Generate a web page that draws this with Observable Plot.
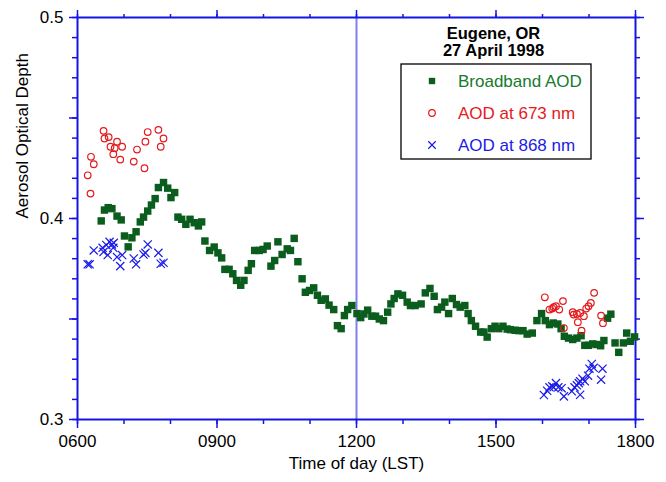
<!DOCTYPE html>
<html>
<head>
<meta charset="utf-8">
<script src="https://cdn.jsdelivr.net/npm/d3@7"></script>
<script src="https://cdn.jsdelivr.net/npm/@observablehq/plot@0.6"></script>
<style>
  html, body { margin: 0; padding: 0; background: #fff; }
  #chart { width: 666px; height: 482px; }
  svg { font-family: "Liberation Sans", Arial, Helvetica, sans-serif; }
</style>
</head>
<body>
<div id="chart"></div>
<script>
// ---- Data (time of day in decimal hours LST, aerosol optical depth) ----
const bbTime = [6.51,6.58,6.66,6.74,6.85,6.94,7.01,7.09,7.17,7.26,7.35,7.42,7.51,7.59,7.67,7.74,7.85,7.94,8.01,8.09,8.16,8.24,8.33,8.42,8.51,8.60,8.67,
  8.74,8.84,8.94,9.02,9.10,9.17,9.26,9.34,9.42,9.51,9.58,9.67,9.74,9.81,9.91,9.99,10.08,10.16,10.24,10.31,10.40,10.51,10.58,10.66,10.74,10.83,10.90,10.99,11.08,11.16,11.24,11.33,11.41,11.51,
  11.59,11.67,11.74,11.81,11.90,12.01,12.09,12.16,12.24,12.33,12.41,12.49,12.58,12.67,12.74,12.81,12.89,12.99,13.09,13.16,13.26,13.39,13.48,13.58,13.67,13.74,13.83,13.90,13.98,14.06,14.15,14.23,14.33,14.40,14.47,14.56,14.67,14.74,14.81,14.90,14.98,15.06,15.15,15.24,15.31,15.41,15.49,15.58,15.67,15.78,
  15.88,15.98,16.06,16.15,16.23,16.33,16.40,16.47,16.56,16.65,16.74,16.83,16.91,16.99,17.08,17.17,17.25,17.32,17.40,17.47,17.56,17.64,17.74,17.81,17.89,17.98];
const bbAod = [0.3988,0.4042,0.4054,0.4049,0.4012,0.3993,0.3913,0.3859,0.3904,0.3934,0.3983,0.4007,0.4037,0.4067,0.4099,0.4154,0.4179,0.4151,0.4104,0.4129,0.4007,0.3996,0.3971,0.3996,0.3979,0.3963,0.3983,
  0.3888,0.3841,0.3858,0.3829,0.3804,0.3747,0.3747,0.3725,0.3692,0.3668,0.3692,0.3742,0.3775,0.3841,0.3841,0.3846,0.3863,0.3763,0.3791,0.3884,0.3821,0.3849,0.3841,0.3901,0.3785,0.3700,0.3633,0.3642,0.3655,0.3618,0.3593,0.3600,0.3569,0.3547,
  0.3467,0.3452,0.3517,0.3547,0.3567,0.3527,0.3507,0.3525,0.3544,0.3514,0.3514,0.3500,0.3492,0.3534,0.3575,0.3602,0.3625,0.3618,0.3584,0.3567,0.3567,0.3575,0.3630,0.3652,0.3613,0.3547,0.3559,0.3584,0.3527,0.3602,0.3572,0.3559,0.3567,0.3527,0.3492,0.3464,0.3435,0.3435,0.3410,0.3452,0.3464,0.3452,0.3464,0.3450,0.3447,0.3444,0.3442,0.3442,0.3425,0.3430,
  0.3492,0.3527,0.3492,0.3472,0.3480,0.3475,0.3452,0.3414,0.3405,0.3398,0.3405,0.3417,0.3369,0.3369,0.3376,0.3373,0.3367,0.3393,0.3504,0.3524,0.3381,0.3334,0.3381,0.3430,0.3389,0.3411];

const redTime = [6.22,6.28,6.29,6.35,6.56,6.58,6.67,6.71,6.77,6.80,6.85,6.92,6.96,7.21,7.28,7.44,7.46,7.51,7.74,7.79,7.85,
  16.05,16.15,16.21,16.24,16.29,16.36,16.44,16.46,16.65,16.67,16.74,16.76,16.81,16.84,16.89,16.94,16.99,17.04,17.11,17.26,17.30];
const redAod = [0.4215,0.4124,0.4307,0.4270,0.4436,0.4398,0.4405,0.4357,0.4320,0.4350,0.4382,0.4293,0.4357,0.4283,0.4343,0.4250,0.4382,0.4430,0.4441,0.4357,0.4398,
  0.3608,0.3547,0.3552,0.3559,0.3564,0.3547,0.3589,0.3455,0.3534,0.3522,0.3525,0.3484,0.3530,0.3442,0.3514,0.3552,0.3564,0.3580,0.3630,0.3517,0.3479];

const blueTime = [6.22,6.26,6.35,6.54,6.56,6.62,6.65,6.69,6.74,6.78,6.77,6.85,6.92,6.96,7.21,7.26,7.42,7.46,7.51,7.74,7.79,7.85,
  16.03,16.10,16.15,16.21,16.24,16.29,16.34,16.41,16.46,16.63,16.69,16.74,16.78,16.81,16.86,16.91,16.81,16.98,17.01,17.06,17.10,17.29,17.26];
const blueAod = [0.3772,0.3772,0.3841,0.3854,0.3834,0.3868,0.3818,0.3884,0.3871,0.3879,0.3854,0.3808,0.3763,0.3818,0.3801,0.3772,0.3821,0.3829,0.3871,0.3829,0.3775,0.3780,
  0.3122,0.3143,0.3160,0.3165,0.3160,0.3181,0.3160,0.3156,0.3115,0.3140,0.3160,0.3170,0.3181,0.3190,0.3203,0.3190,0.3123,0.3218,0.3253,0.3276,0.3257,0.3253,0.3198];

const xMajorTicks = [6, 9, 12, 15, 18];
const xMinorTicks = [6,7,8,9,10,11,12,13,14,15,16,17,18];
const yMajorTicks = [0.3, 0.4, 0.5];
const yMidTicks = [0.35, 0.45];
const yMinorTicks = d3.range(30, 51).map(d => d / 100);
const noonLine = [12];

const titleLine1 = "Eugene, OR";
const titleLine2 = "27 April 1998";
const xLabel = "Time of day (LST)";
const yLabel = "Aerosol Optical Depth";
const seriesNames = ["Broadband AOD", "AOD at 673 nm", "AOD at 868 nm"];

// ---- Styles ----
const axisBlue = "#1414e6";
const green = "#0b5d1e";
const red = "#e41a1c";
const blue = "#1a1ae8";
const font = "Liberation Sans, Arial, Helvetica, sans-serif";

const bb = bbTime.map((t, i) => ({t, v: bbAod[i]}));
const r673 = redTime.map((t, i) => ({t, v: redAod[i]}));
const r868 = blueTime.map((t, i) => ({t, v: blueAod[i]}));

const fmtTime = d => String(Math.round(d * 100)).padStart(4, "0");
const blank = () => "";

const plot = Plot.plot({
  width: 666,
  height: 482,
  marginLeft: 77,
  marginRight: 31,
  marginTop: 17,
  marginBottom: 63,
  style: {fontFamily: font, fontSize: "17px", background: "white", color: "black", overflow: "visible"},
  x: {domain: [6, 18]},
  y: {domain: [0.3, 0.5]},
  marks: [
    Plot.ruleX(noonLine, {stroke: "#7f7ff3", strokeWidth: 2}),
    // bottom
    Plot.axisX({anchor: "bottom", ticks: xMinorTicks, tickSize: 5, tickFormat: blank, label: null, stroke: axisBlue, strokeWidth: 1.5}),
    Plot.axisX({anchor: "bottom", ticks: xMajorTicks, tickSize: 9, tickPadding: 6, tickFormat: fmtTime, label: null, stroke: axisBlue, strokeWidth: 1.5, fill: "black", fontSize: 17}),
    // top
    Plot.axisX({anchor: "top", ticks: xMinorTicks, tickSize: 4, tickFormat: blank, label: null, stroke: axisBlue, strokeWidth: 1.5}),
    Plot.axisX({anchor: "top", ticks: xMajorTicks, tickSize: 8, tickFormat: blank, label: null, stroke: axisBlue, strokeWidth: 1.5}),
    // left
    Plot.axisY({anchor: "left", ticks: yMinorTicks, tickSize: 5, tickFormat: blank, label: null, stroke: axisBlue, strokeWidth: 1.5}),
    Plot.axisY({anchor: "left", ticks: yMidTicks, tickSize: 8, tickFormat: blank, label: null, stroke: axisBlue, strokeWidth: 1.5}),
    Plot.axisY({anchor: "left", ticks: yMajorTicks, tickSize: 8, tickPadding: 6, tickFormat: d => d.toFixed(1), label: null, stroke: axisBlue, strokeWidth: 1.5, fill: "black", fontSize: 17}),
    // right
    Plot.axisY({anchor: "right", ticks: yMinorTicks, tickSize: 4, tickFormat: blank, label: null, stroke: axisBlue, strokeWidth: 1.5}),
    Plot.axisY({anchor: "right", ticks: yMajorTicks, tickSize: 8, tickFormat: blank, label: null, stroke: axisBlue, strokeWidth: 1.5}),
    Plot.frame({stroke: axisBlue, strokeWidth: 2}),
    // data
    Plot.dot(bb, {x: "t", y: "v", symbol: "square", r: 4.2, fill: green, stroke: "none"}),
    Plot.dot(r673, {x: "t", y: "v", symbol: "circle", r: 3.3, fill: "none", stroke: red, strokeWidth: 1.2}),
    Plot.dot(r868, {x: "t", y: "v", symbol: "times", r: 3.8, stroke: blue, strokeWidth: 1.2}),
    // labels
    Plot.text([yLabel], {frameAnchor: "left", dx: -55, rotate: -90, fontSize: 17, fill: "black"}),
    Plot.text([xLabel], {frameAnchor: "bottom", dy: 49, fontSize: 17, fill: "black"}),
    Plot.text([titleLine1], {frameAnchor: "top-right", dx: -142, dy: 16.5, textAnchor: "middle", lineAnchor: "middle", fontSize: 16.5, fontWeight: "bold", fill: "black"}),
    Plot.text([titleLine2], {frameAnchor: "top-right", dx: -142, dy: 33.5, textAnchor: "middle", lineAnchor: "middle", fontSize: 16.5, fontWeight: "bold", fill: "black"})
  ]
});

document.getElementById("chart").appendChild(plot);

// ---- Legend (drawn inside the SVG) ----
const svg = d3.select(plot);
const lg = svg.append("g").attr("font-family", font).attr("font-size", 17).attr("text-anchor", "start");
lg.append("rect").attr("x", 401).attr("y", 64).attr("width", 190).attr("height", 95)
  .attr("fill", "white").attr("stroke", "black").attr("stroke-width", 1.3);
const legendColors = [green, red, blue];
const textColors = ["#167a2e", red, "#1c1ce6"];
const rowsY = [81, 113, 145];
seriesNames.forEach((name, i) => {
  const y = rowsY[i];
  if (i === 0) {
    lg.append("rect").attr("x", 432 - 3.2).attr("y", y - 3.2).attr("width", 6.4).attr("height", 6.4).attr("fill", legendColors[i]);
  } else if (i === 1) {
    lg.append("circle").attr("cx", 432).attr("cy", y).attr("r", 3.3).attr("fill", "none").attr("stroke", legendColors[i]).attr("stroke-width", 1.2);
  } else {
    lg.append("path").attr("d", d3.symbol(d3.symbolTimes, 38)()).attr("transform", `translate(432,${y})`)
      .attr("fill", "none").attr("stroke", legendColors[i]).attr("stroke-width", 1.2);
  }
  lg.append("text").attr("x", 458).attr("y", y).attr("dy", "0.35em").attr("text-anchor", "start").attr("fill", textColors[i]).text(name);
});
</script>
</body>
</html>
